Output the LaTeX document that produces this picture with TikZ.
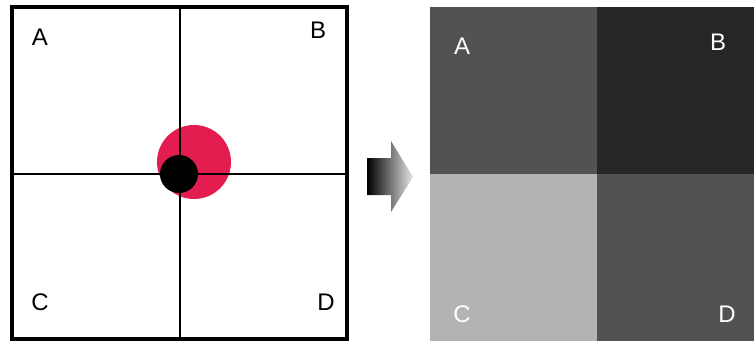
\documentclass[tikz,border=0pt]{standalone}
\usepackage{fontspec}
\setmainfont{Liberation Sans}
\usetikzlibrary{positioning}

\definecolor{dotred}{RGB}{228,29,80}
\definecolor{cellA}{RGB}{82,82,82}
\definecolor{cellB}{RGB}{38,38,38}
\definecolor{cellC}{RGB}{179,179,179}
\definecolor{cellD}{RGB}{82,82,82}

\begin{document}
\begin{tikzpicture}[x=1pt,y=-1pt]

\tikzset{letter/.style={font=\fontsize{24}{28}\selectfont, inner sep=0pt},
         whiteletter/.style={letter, text=white}}

\useasboundingbox (0,0) rectangle (754,341);

% left: the sensor grid
\fill[dotred] (194,162) circle (37);
\fill[black] (179,174) circle (19);
\draw[line width=2pt] (180,7) -- (180,339);
\draw[line width=2pt] (12,174) -- (347,174);
\draw[line width=4pt] (12,7) rectangle (347,339);

\node[letter] (la) at (40,37) {A};
\node[letter] (lb) at (318,30) {B};
\node[letter] (lc) at (40,302) {C};
\node[letter] (ld) at (326,302) {D};

% arrow
\shade[left color=black, right color=black!10]
  (367,158) -- (391,158) -- (391,141) -- (413,177) -- (391,212) -- (391,195) -- (367,195) -- cycle;

% right: the four readings
\fill[cellA] (430,7) rectangle (597,174);
\fill[cellB] (597,7) rectangle (754,174);
\fill[cellC] (430,174) rectangle (597,341);
\fill[cellD] (597,174) rectangle (754,341);

\node[whiteletter] (ra) at (462,46) {A};
\node[whiteletter] (rb) at (718,42) {B};
\node[whiteletter] (rc) at (462,314) {C};
\node[whiteletter] (rd) at (727,314) {D};

\end{tikzpicture}
\end{document}
